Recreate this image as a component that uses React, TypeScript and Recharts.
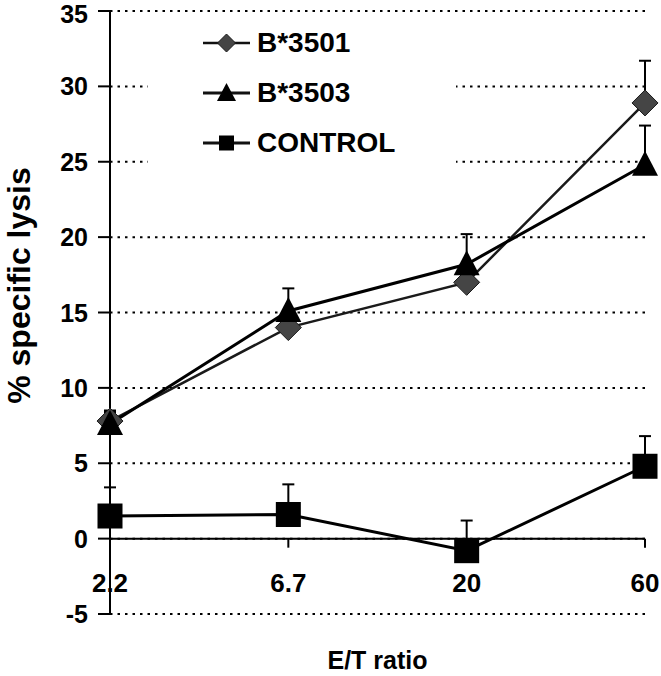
import React from "react";
import {
  LineChart,
  Line,
  XAxis,
  YAxis,
  CartesianGrid,
  ReferenceLine,
  ErrorBar,
  Legend,
} from "recharts";

const FONT = "Arial, 'Liberation Sans', Helvetica, sans-serif";

const ratios = ["2.2", "6.7", "20", "60"];
const b3501 = [7.8, 14.0, 17.0, 28.9];
const b3501Err = [0.6, 1.0, 1.0, 2.8];
const b3503 = [7.6, 15.1, 18.2, 24.8];
const b3503Err = [0.9, 1.5, 2.0, 2.6];
const control = [1.5, 1.6, -0.8, 4.8];
const controlErr = [1.9, 2.0, 2.0, 2.0];
const yTicks = [-5, 0, 5, 10, 15, 20, 25, 30, 35];

// upward-only error bars: [below, above]
const data = ratios.map((r, i) => ({
  ratio: r,
  b3501: b3501[i],
  e3501: [0, b3501Err[i]],
  b3503: b3503[i],
  e3503: [0, b3503Err[i]],
  control: control[i],
  eControl: [0, controlErr[i]],
}));

const DiamondDot = (p: any) => {
  const { cx, cy } = p;
  if (cx == null || cy == null) return null;
  const r = 13;
  return (
    <path
      d={`M${cx},${cy - r}L${cx + r},${cy}L${cx},${cy + r}L${cx - r},${cy}Z`}
      fill="#454545"
      stroke="#1a1a1a"
      strokeWidth={1}
    />
  );
};

const TriangleDot = (p: any) => {
  const { cx, cy } = p;
  if (cx == null || cy == null) return null;
  const w = 13;
  return (
    <path
      d={`M${cx},${cy - 14}L${cx + w},${cy + 11}L${cx - w},${cy + 11}Z`}
      fill="#000"
    />
  );
};

const SquareDot = (p: any) => {
  const { cx, cy } = p;
  if (cx == null || cy == null) return null;
  const s = 12.5;
  return <rect x={cx - s} y={cy - s} width={s * 2} height={s * 2} fill="#000" />;
};

const XTick = (p: any) => (
  <text
    x={p.x}
    y={p.y}
    dy={-22}
    textAnchor="middle"
    fontFamily={FONT}
    fontWeight={700}
    fontSize={26}
    fill="#000"
  >
    {p.payload.value}
  </text>
);

// keep the top label inside the picture
const YTick = (p: any) => (
  <text
    x={p.x}
    y={Math.max(p.y, 14)}
    dy={9}
    textAnchor="end"
    fontFamily={FONT}
    fontWeight={700}
    fontSize={25}
    fill="#000"
  >
    {p.payload.value}
  </text>
);

const YLabel = (p: any) => {
  const vb = p.viewBox || { x: 0, y: 11, width: 110, height: 603 };
  const x = vb.x + 19;
  const y = vb.y + vb.height / 2 - 27;
  return (
    <text
      x={x}
      y={y}
      transform={`rotate(-90, ${x}, ${y})`}
      textAnchor="middle"
      dominantBaseline="central"
      fontFamily={FONT}
      fontWeight={700}
      fontSize={32}
      fill="#000"
    >
      % specific lysis
    </text>
  );
};

const legendItems = [
  { name: "B*3501", kind: "diamond", width: 2.5 },
  { name: "B*3503", kind: "triangle", width: 3 },
  { name: "CONTROL", kind: "square", width: 3 },
];

const LegendBox = () => (
  <div
    style={{
      background: "#fff",
      width: 308,
      height: 150,
      boxSizing: "border-box",
      paddingLeft: 55,
      fontFamily: FONT,
      fontWeight: 700,
      fontSize: 28,
      color: "#000",
    }}
  >
    {legendItems.map((it) => (
      <div key={it.name} style={{ display: "flex", alignItems: "center", height: 50 }}>
        <svg width={47} height={30} style={{ marginRight: 7 }}>
          <line x1={0} y1={15} x2={47} y2={15} stroke="#111" strokeWidth={it.width} />
          {it.kind === "diamond" && (
            <path d="M23.5,6L32.5,15L23.5,24L14.5,15Z" fill="#454545" stroke="#1a1a1a" strokeWidth={1} />
          )}
          {it.kind === "triangle" && <path d="M23.5,5L33,23L14,23Z" fill="#000" />}
          {it.kind === "square" && <rect x={16} y={7.5} width={15} height={15} fill="#000" />}
        </svg>
        <span>{it.name}</span>
      </div>
    ))}
  </div>
);

export default function App() {
  return (
    <div style={{ position: "absolute", left: 0, top: 0, background: "#fff" }}>
      <LineChart
        width={661}
        height={676}
        data={data}
        margin={{ top: 11, right: 16, bottom: 0, left: 0 }}
      >
        <CartesianGrid
          vertical={false}
          stroke="#000"
          strokeWidth={2}
          strokeDasharray="2.5 5"
        />
        <XAxis
          dataKey="ratio"
          height={62}
          axisLine={false}
          tickLine={false}
          tickSize={0}
          tickMargin={0}
          interval={0}
          tick={<XTick />}
          label={{
            value: "E/T ratio",
            position: "insideBottom",
            offset: 7,
            fill: "#000",
            fontSize: 25,
            fontWeight: 700,
            fontFamily: FONT,
          }}
        />
        <YAxis
          width={110}
          domain={[-5, 35]}
          ticks={yTicks}
          interval={0}
          tickSize={12}
          tickMargin={10}
          axisLine={{ stroke: "#000", strokeWidth: 2 }}
          tickLine={{ stroke: "#000", strokeWidth: 2 }}
          tick={<YTick />}
          label={<YLabel />}
        />
        <ReferenceLine y={0} stroke="#000" strokeWidth={2} />
        {ratios.slice(1).map((r) => (
          <ReferenceLine
            key={r}
            segment={[
              { x: r, y: 0 },
              { x: r, y: -0.6 },
            ]}
            stroke="#000"
            strokeWidth={2}
          />
        ))}
        <Line
          dataKey="b3501"
          stroke="#1a1a1a"
          strokeWidth={2.5}
          dot={<DiamondDot />}
          activeDot={false}
          isAnimationActive={false}
        >
          <ErrorBar dataKey="e3501" direction="y" width={6} stroke="#000" strokeWidth={2} />
        </Line>
        <Line
          dataKey="b3503"
          stroke="#000"
          strokeWidth={3}
          dot={<TriangleDot />}
          activeDot={false}
          isAnimationActive={false}
        >
          <ErrorBar dataKey="e3503" direction="y" width={6} stroke="#000" strokeWidth={2} />
        </Line>
        <Line
          dataKey="control"
          stroke="#000"
          strokeWidth={3}
          dot={<SquareDot />}
          activeDot={false}
          isAnimationActive={false}
        >
          <ErrorBar dataKey="eControl" direction="y" width={6} stroke="#000" strokeWidth={2} />
        </Line>
        <Legend
          layout="vertical"
          align="center"
          verticalAlign="middle"
          wrapperStyle={{ top: 18, left: 148, width: 308, height: 150 }}
          content={<LegendBox />}
        />
      </LineChart>
    </div>
  );
}
